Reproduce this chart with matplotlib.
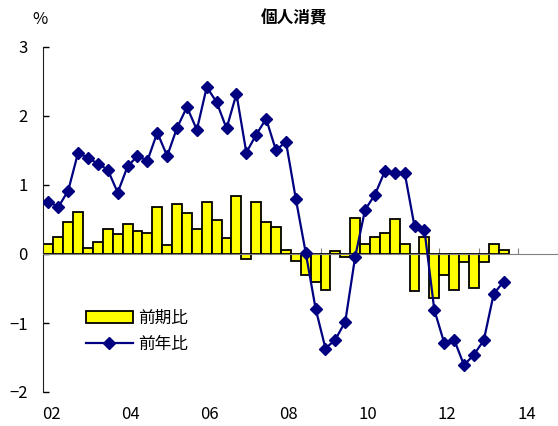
import numpy as np
import matplotlib
matplotlib.use("Agg")
import matplotlib.pyplot as plt

plt.rcParams['font.family'] = ['Noto Sans CJK JP', 'DejaVu Sans']

# quarterly data, 2002Q1 - 2013Q3
qoq = [0.15, 0.24, 0.46, 0.61, 0.08, 0.17, 0.36, 0.29, 0.43, 0.34, 0.30, 0.68,
       0.13, 0.72, 0.60, 0.36, 0.75, 0.49, 0.23, 0.84, -0.07, 0.75, 0.46, 0.39,
       0.06, -0.10, -0.30, -0.41, -0.52, 0.04, -0.05, 0.52, 0.14, 0.25, 0.30, 0.51,
       0.15, -0.54, 0.24, -0.64, -0.31, -0.52, -0.11, -0.49, -0.11, 0.14, 0.06]
yoy = [0.76, 0.68, 0.92, 1.47, 1.39, 1.31, 1.22, 0.89, 1.27, 1.42, 1.35, 1.76,
       1.42, 1.83, 2.13, 1.80, 2.42, 2.20, 1.82, 2.32, 1.47, 1.73, 1.96, 1.50,
       1.63, 0.80, 0.02, -0.79, -1.37, -1.24, -0.98, -0.04, 0.64, 0.86, 1.20, 1.18,
       1.18, 0.40, 0.35, -0.81, -1.29, -1.24, -1.61, -1.46, -1.25, -0.58, -0.40]
year_labels = ['02', '04', '06', '08', '10', '12', '14']
legend_labels = ['前期比', '前年比']

x = np.arange(len(qoq))

fig = plt.figure(figsize=(5.58, 4.26), dpi=100)
ax = fig.add_axes([43/558, 34/426, 515/558, 345/426])

bars = ax.bar(x, qoq, width=1.0, color='#FFFF00', edgecolor='black', linewidth=1.3,
              label=legend_labels[0], zorder=2)
line, = ax.plot(x, yoy, color='#000080', lw=1.6, marker='D', markersize=6.5,
                label=legend_labels[1], zorder=3)

ax.set_ylim(-2, 3)
ax.set_xlim(-0.55, 51.0)
ax.set_yticks(range(-2, 4))
ax.tick_params(axis='y', direction='in', length=4.5, width=1, pad=11, labelsize=12)

ax.spines['top'].set_visible(False)
ax.spines['right'].set_visible(False)
ax.spines['bottom'].set_position(('data', 0))
ax.spines['bottom'].set_color('#808080')
ax.spines['left'].set_color('#202020')

# year boundary ticks on the zero line, labels below the plot
ax.set_xticks(np.arange(-0.5, 52, 4))
ax.tick_params(axis='x', direction='in', length=4, color='#808080', labelbottom=False)
for i, lab in enumerate(year_labels):
    ax.text(8 * i + 0.3, -0.066, lab, transform=ax.get_xaxis_transform(),
            ha='center', va='center', fontsize=12)

fig.text(40/558, 1 - 20/426, '%', ha='center', va='center', fontsize=12)
fig.text(294/558, 1 - 18/426, '個人消費', ha='center', va='center', fontsize=12,
         fontweight='bold')

fig.legend(handles=[bars, line], labels=legend_labels, loc='upper left',
           bbox_to_anchor=(86/558, 1 - 310/426), frameon=False, fontsize=12,
           borderpad=0, borderaxespad=0, handlelength=2.8, handletextpad=0.3,
           labelspacing=0.55)

fig.savefig('out.png', dpi=100)
